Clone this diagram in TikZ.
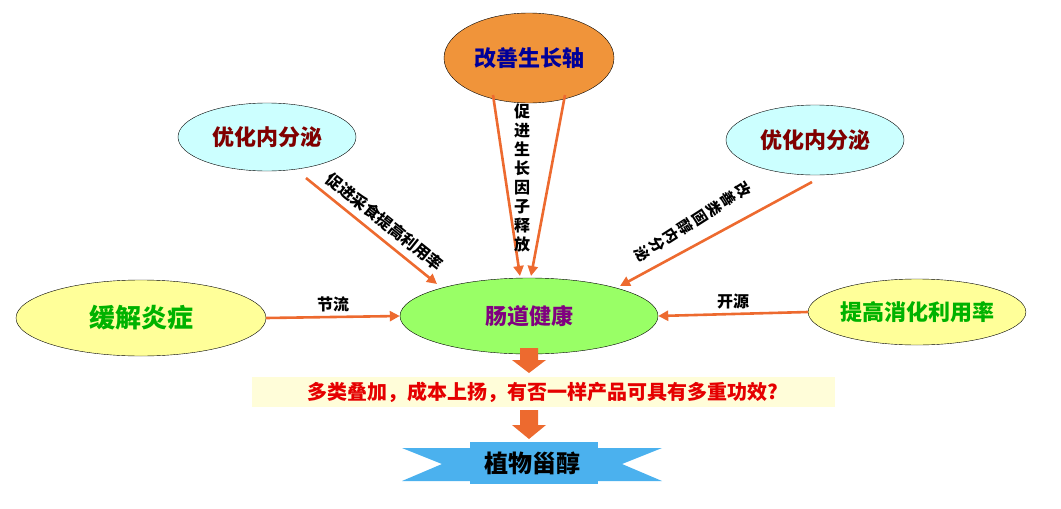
\documentclass[tikz,border=0pt]{standalone}
\usepackage{fontspec}
\setmainfont{Noto Sans CJK SC}
\usetikzlibrary{shapes.geometric,arrows.meta}
\definecolor{arr}{HTML}{ED6A2F}
\definecolor{cyanl}{HTML}{CCFFFF}
\definecolor{yel}{HTML}{FFFF99}
\definecolor{gut}{HTML}{99FF66}
\definecolor{ban}{HTML}{4BB1EE}
\definecolor{axisor}{HTML}{F0943A}
\tikzset{
  blob/.style={ellipse,draw=black,thin,inner sep=0pt,font=\bfseries\fontsize{22}{22}\selectfont},
  link/.style={draw=arr,line width=2.6pt,-{Triangle[length=10pt,width=10pt]}},
  tag/.style={font=\bfseries\fontsize{16}{18}\selectfont}
}
\begin{document}
\begin{tikzpicture}[x=1pt,y=-1pt]
        \useasboundingbox (0,0) rectangle (1061,509);
        % ellipses
        \node[blob,fill=axisor,text=blue!60!black,minimum width=170,minimum height=90] (axis) at (529,58) {改善生长轴};
        \node[blob,fill=cyanl,text=red!50!black,minimum width=178,minimum height=68] (endoL) at (267,137) {优化内分泌};
        \node[blob,fill=cyanl,text=red!50!black,minimum width=178,minimum height=70] (endoR) at (815,140) {优化内分泌};
        \node[blob,fill=yel,text=green!70!black,font=\bfseries\fontsize{26}{26}\selectfont,minimum width=250,minimum height=76] (infl) at (141,318) {缓解炎症};
        \node[blob,fill=yel,text=green!70!black,font=\bfseries\fontsize{22}{22}\selectfont,minimum width=214,minimum height=66] (dige) at (917,312) {提高消化利用率};
        \node[blob,fill=gut,text=violet,minimum width=258,minimum height=76] (gut) at (529,316) {肠道健康};

        % connectors
        \coordinate (a1) at (493,95);
        \coordinate (a2) at (565,95);
        \draw[link] (a1) -- (520,276);
        \draw[link] (a2) -- (531,276);
        \draw[link] (306,178) -- (437,284);
        \draw[link] (812,182) -- (620,286);
        \draw[link] (infl.east) -- (gut.west) node[midway,above,tag] {节流};
        \draw[link] (dige.west) -- (gut.east) node[midway,above,tag] {开源};

        % labels along arrows
        \node[tag,rotate=-38.7,inner sep=0pt] (lbl1) at (385,222) {促进采食提高利用率};
        \node[align=center,inner sep=0pt,font=\bfseries\fontsize{16}{19}\selectfont] (lbl2) at (522,178) {促\\进\\生\\长\\因\\子\\释\\放};
        \node[align=center,inner sep=0pt,rotate=-57.4,font=\bfseries\fontsize{15}{17}\selectfont] (lbl3) at (693,222) {改\\善\\类\\固\\醇\\内\\分\\泌};

        % question and result
        \fill[arr] (520,348) rectangle (538,360) (512,360) -- (546,360) -- (529,373) -- cycle;
        \node[fill=yellow!15,text=red!90!black,font=\bfseries\fontsize{20}{20}\selectfont,minimum width=583,minimum height=30,inner sep=0pt] (quest) at (543,392) {多类叠加，成本上扬，有否一样产品可具有多重功效?};
        \fill[arr] (520,410) rectangle (538,425) (512,425) -- (546,425) -- (529,439) -- cycle;
        \fill[ban] (402,448) -- (662,448) -- (622,464) -- (662,481) -- (402,481) -- (442,464) -- cycle;
        \fill[ban] (470,442) rectangle (598,484);
        \node[font=\bfseries\fontsize{24}{24}\selectfont] (plant) at (532,463) {植物甾醇};
    \end{tikzpicture}
\end{document}
